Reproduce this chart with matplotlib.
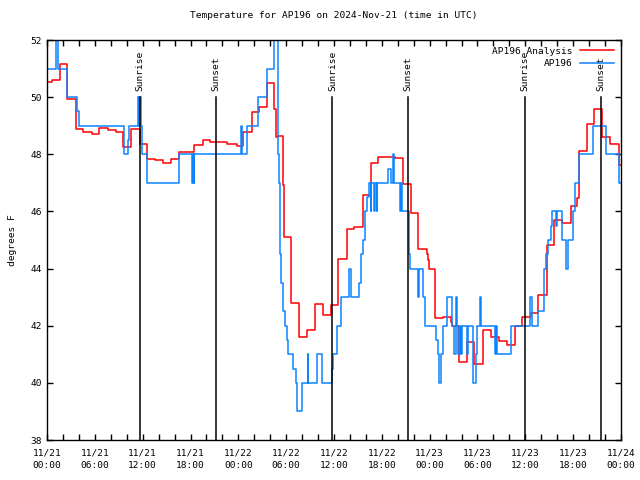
import matplotlib
matplotlib.use("Agg")
import matplotlib.pyplot as plt
from matplotlib.ticker import MultipleLocator

# hours after 2024-11-21 00:00 UTC, step values (deg F)
red_hours = [0.0, 0.59, 1.63, 2.47, 3.6, 4.55, 5.6, 6.52, 7.61, 8.62,
             9.57, 10.5, 11.67, 12.5, 13.58, 14.59, 15.55, 16.6, 18.48, 19.53,
             20.45, 22.62, 23.8, 24.62, 25.68, 26.63, 27.56, 28.47, 28.73, 28.94,
             29.57, 29.69, 30.55, 31.57, 32.58, 33.58, 34.58, 35.62, 36.54, 37.59,
             38.57, 39.6, 40.64, 41.56, 43.65, 44.62, 45.66, 46.58, 47.63, 47.79,
             47.92, 48.63, 49.71, 50.68, 50.76, 51.72, 52.65, 53.56, 54.65, 55.66,
             56.7, 57.74, 58.7, 59.62, 60.65, 61.63, 62.68, 63.54, 64.56, 65.69,
             66.44, 66.7, 67.7, 68.65, 69.58, 70.62, 71.71, 72.0]
red_vals = [50.54, 50.59, 51.15, 49.93, 48.9, 48.79, 48.7, 48.93, 48.85, 48.77,
            48.27, 48.9, 48.35, 47.85, 47.8, 47.68, 47.82, 48.09, 48.34, 48.5,
            48.44, 48.37, 48.28, 48.77, 49.47, 49.65, 50.5, 49.58, 48.6, 48.65,
            46.94, 45.1, 42.8, 41.6, 41.84, 42.75, 42.38, 42.73, 44.33, 45.37,
            45.44, 46.56, 47.68, 47.92, 47.86, 46.96, 45.93, 44.67, 44.5, 44.3,
            44.0, 42.28, 42.3, 42.14, 42.0, 40.74, 41.42, 40.66, 41.85, 41.62,
            41.46, 41.33, 41.99, 42.3, 42.44, 43.06, 44.82, 45.71, 45.6, 46.2,
            46.47, 48.1, 49.06, 49.58, 48.6, 48.36, 47.61, 47.61]

blue_hours = [0.0, 1.13, 1.42, 2.47, 3.8, 4.05, 9.7, 10.2, 10.32, 11.38,
              11.5, 11.6, 11.75, 11.88, 12.58, 16.6, 18.2, 18.3, 18.4, 18.5,
              24.3, 24.4, 25.05, 26.5, 27.56, 28.5, 28.94, 29.07, 29.2, 29.3,
              29.57, 29.8, 30.07, 30.2, 30.82, 31.2, 31.3, 31.95, 32.7, 32.78,
              33.83, 34.53, 35.78, 35.9, 36.41, 36.92, 37.92, 38.17, 39.17, 39.34,
              39.6, 39.89, 40.2, 40.4, 40.6, 40.7, 41.0, 41.1, 41.35, 41.45,
              42.8, 43.2, 43.44, 43.55, 44.28, 44.4, 44.55, 45.37, 45.5, 46.57,
              46.65, 47.17, 47.45, 48.83, 49.05, 49.21, 49.46, 49.67, 50.18, 50.76,
              51.05, 51.27, 51.45, 51.6, 51.75, 51.9, 52.05, 52.65, 52.85, 53.48,
              53.81, 53.98, 54.31, 54.4, 56.2, 56.3, 56.45, 58.17, 60.6, 60.8,
              61.63, 62.34, 62.6, 62.85, 63.22, 63.39, 63.81, 63.95, 64.6, 65.1,
              65.39, 65.94, 66.23, 66.7, 68.45, 70.06, 71.71, 72.0]
blue_vals = [51.0, 52.5, 51.0, 50.0, 49.5, 49.0, 48.0, 48.5, 49.0, 50.0,
             49.0, 50.0, 49.0, 48.0, 47.0, 48.0, 47.0, 48.0, 47.0, 48.0,
             49.0, 48.0, 49.0, 50.0, 51.0, 52.5, 48.0, 47.0, 44.5, 43.5,
             42.5, 42.0, 41.5, 41.0, 40.5, 40.0, 39.0, 40.0, 41.0, 40.0,
             41.0, 40.0, 40.5, 41.0, 42.0, 43.0, 44.0, 43.0, 43.5, 44.5,
             45.0, 46.0, 46.5, 47.0, 46.0, 47.0, 46.0, 47.0, 46.0, 47.0,
             47.5, 47.0, 48.0, 47.0, 46.0, 47.0, 46.0, 44.5, 44.0, 43.0,
             44.0, 43.0, 42.0, 41.5, 41.0, 40.0, 41.0, 42.0, 43.0, 42.0,
             41.0, 43.0, 42.0, 41.0, 42.0, 41.0, 42.0, 41.0, 42.0, 40.0,
             41.0, 42.0, 43.0, 42.0, 41.0, 42.0, 41.0, 42.0, 43.0, 42.0,
             42.5, 44.0, 44.5, 45.0, 45.5, 46.0, 45.5, 46.0, 45.0, 44.0,
             45.0, 46.0, 47.0, 48.0, 49.0, 48.0, 47.0, 47.0]

sunrise = [11.7, 35.8, 59.9]
sunset = [21.24, 45.3, 69.45]

tick_hours = list(range(0, 73, 6))
tick_labels = ["11/21\n00:00", "11/21\n06:00", "11/21\n12:00", "11/21\n18:00",
               "11/22\n00:00", "11/22\n06:00", "11/22\n12:00", "11/22\n18:00",
               "11/23\n00:00", "11/23\n06:00", "11/23\n12:00", "11/23\n18:00",
               "11/24\n00:00"]

plt.rcParams['font.family'] = ['DejaVu Sans Mono']
plt.rcParams['font.size'] = 6.8

fig = plt.figure(figsize=(6.4, 4.8), dpi=100)
ax = fig.add_axes([47 / 640, 40 / 480, 574 / 640, 400 / 480])

ax.step(red_hours, red_vals, where='post', color='#ff0000', lw=1.1,
        label='AP196 Analysis')
ax.step(blue_hours, blue_vals, where='post', color='#0a84ff', lw=1.1,
        label='AP196')

for h in sunrise:
    ax.plot([h, h], [38, 50], color='black', lw=1.1)
    ax.text(h, 50.2, 'Sunrise', rotation=90, ha='center', va='bottom')
for h in sunset:
    ax.plot([h, h], [38, 50], color='black', lw=1.1)
    ax.text(h, 50.2, 'Sunset', rotation=90, ha='center', va='bottom')

ax.set_xlim(0, 72)
ax.set_ylim(38, 52)
ax.set_xticks(tick_hours)
ax.set_xticklabels(tick_labels, linespacing=1.5)
ax.xaxis.set_minor_locator(MultipleLocator(2))
ax.set_yticks(range(38, 53, 2))
ax.tick_params(which='both', direction='in', top=True, right=True,
               length=4, width=1)
ax.tick_params(axis='x', pad=6)
for s in ax.spines.values():
    s.set_linewidth(1)

ax.set_title('Temperature for AP196 on 2024-Nov-21 (time in UTC)',
             fontsize=6.8, pad=16)
ax.set_ylabel('degrees F', labelpad=10)

ax.legend(loc='upper right', frameon=False, markerfirst=False,
          handlelength=3.6, borderaxespad=0.3, labelspacing=0.35,
          handletextpad=0.8)

fig.savefig('out.png', dpi=100)
